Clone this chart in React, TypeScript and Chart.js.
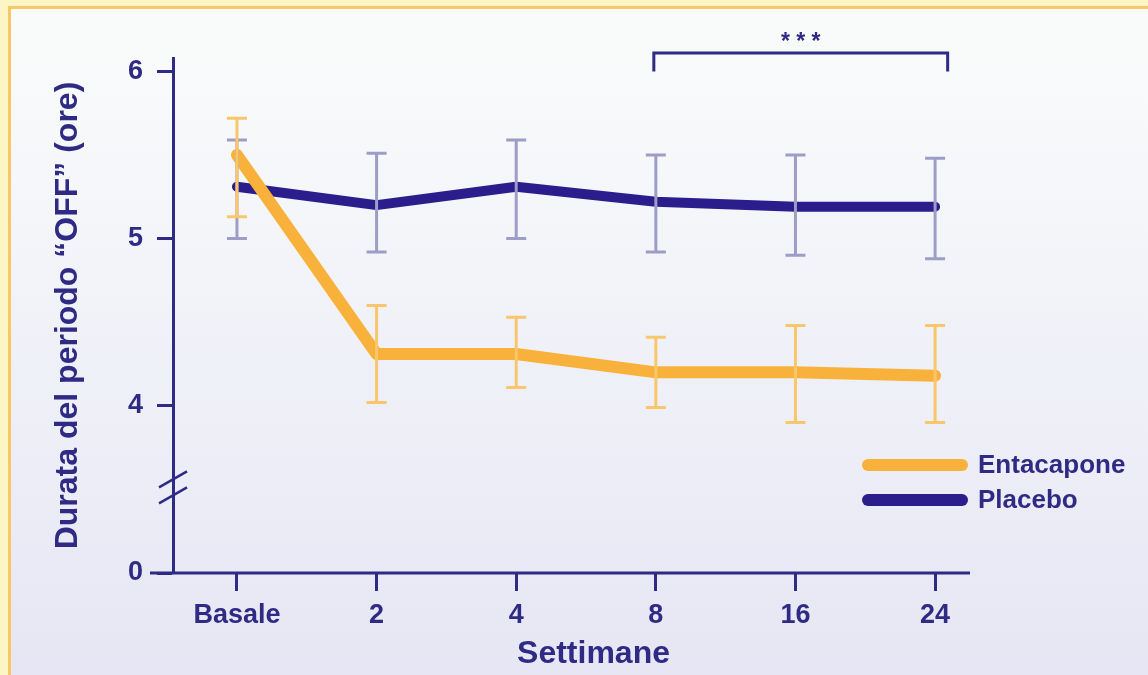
import React, { useEffect, useRef } from "react";
import { Chart, registerables } from "chart.js";

Chart.register(...registerables);

// Weeks of treatment along the horizontal axis
const weeks = ["Basale", "2", "4", "8", "16", "24"];

// Mean duration of the "OFF" period (hours) with the upper / lower error bar ends
const entacapone = [5.5, 4.31, 4.31, 4.2, 4.2, 4.18];
const entacaponeHigh = [5.72, 4.6, 4.53, 4.41, 4.48, 4.48];
const entacaponeLow = [5.13, 4.02, 4.11, 3.99, 3.9, 3.9];

const placebo = [5.31, 5.2, 5.31, 5.22, 5.19, 5.19];
const placeboHigh = [5.59, 5.51, 5.59, 5.5, 5.5, 5.48];
const placeboLow = [5.0, 4.92, 5.0, 4.92, 4.9, 4.88];

// The axis is broken below 4: the bottom tick stands for zero
const yTickValues = [3, 4, 5, 6];
const yTickLabels = ["0", "4", "5", "6"];

const NAVY = "#2f2a84";
const ORANGE = "#f8b23c";
const PLACEBO_BLUE = "#2b1e8c";
const ORANGE_ERR = "#f9c66c";
const PLACEBO_ERR = "#9d9dc8";
const FONT = "'Liberation Sans', Arial, sans-serif";

const errorBars = [
  { high: placeboHigh, low: placeboLow, color: PLACEBO_ERR },
  { high: entacaponeHigh, low: entacaponeLow, color: ORANGE_ERR },
];

const backgroundPlugin = {
  id: "pageBackground",
  beforeDraw(chart: any) {
    const { ctx, width, height } = chart;
    ctx.save();
    const g = ctx.createLinearGradient(0, 0, 0, height);
    g.addColorStop(0, "#fafcfb");
    g.addColorStop(0.35, "#f3f5f9");
    g.addColorStop(1, "#e6e6f4");
    ctx.fillStyle = g;
    ctx.fillRect(0, 0, width, height);
    // pale yellow frame with an orange inner rule on top and left
    ctx.fillStyle = "#fdf6c4";
    ctx.fillRect(0, 0, width, 7);
    ctx.fillRect(0, 0, 8, height);
    ctx.fillStyle = "#f9c765";
    ctx.fillRect(8, 6, width - 8, 3);
    ctx.fillRect(8, 6, 3, height - 6);
    ctx.restore();
  },
};

const decorationsPlugin = {
  id: "decorations",
  afterDatasetsDraw(chart: any) {
    const { ctx, chartArea, scales } = chart;
    const xs = scales.x;
    const ys = scales.y;
    ctx.save();

    // error bars
    ctx.lineCap = "butt";
    errorBars.forEach((eb) => {
      ctx.strokeStyle = eb.color;
      ctx.lineWidth = 3;
      eb.high.forEach((hi, i) => {
        const x = xs.getPixelForValue(i);
        const yHi = ys.getPixelForValue(hi);
        const yLo = ys.getPixelForValue(eb.low[i]);
        ctx.beginPath();
        ctx.moveTo(x, yHi);
        ctx.lineTo(x, yLo);
        ctx.moveTo(x - 10, yHi);
        ctx.lineTo(x + 10, yHi);
        ctx.moveTo(x - 10, yLo);
        ctx.lineTo(x + 10, yLo);
        ctx.stroke();
      });
    });

    // horizontal axis line, extended past the vertical axis
    ctx.strokeStyle = NAVY;
    ctx.lineWidth = 3;
    ctx.beginPath();
    ctx.moveTo(chartArea.left - 23, chartArea.bottom);
    ctx.lineTo(chartArea.right, chartArea.bottom);
    ctx.stroke();

    // axis break marks
    const yb = ys.getPixelForValue(3.5);
    ctx.lineWidth = 2.5;
    ctx.beginPath();
    ctx.moveTo(chartArea.left - 14, yb - 2);
    ctx.lineTo(chartArea.left + 14, yb - 18);
    ctx.moveTo(chartArea.left - 14, yb + 14);
    ctx.lineTo(chartArea.left + 14, yb - 2);
    ctx.stroke();

    // significance bracket from week 8 to week 24
    const bx1 = xs.getPixelForValue(3) - 2;
    const bx2 = xs.getPixelForValue(5.09);
    const byTop = ys.getPixelForValue(6.11);
    const byEnd = ys.getPixelForValue(6.0);
    ctx.lineWidth = 3;
    ctx.lineCap = "butt";
    ctx.beginPath();
    ctx.moveTo(bx1, byEnd);
    ctx.lineTo(bx1, byTop);
    ctx.lineTo(bx2, byTop);
    ctx.lineTo(bx2, byEnd);
    ctx.stroke();
    ctx.fillStyle = NAVY;
    ctx.font = `bold 23px ${FONT}`;
    ctx.textAlign = "center";
    ctx.textBaseline = "middle";
    ctx.fillText("* * *", (bx1 + bx2) / 2, byTop - 10);

    // legend
    ctx.lineCap = "round";
    ctx.lineWidth = 12;
    ctx.font = `bold 26px ${FONT}`;
    ctx.textAlign = "left";
    chart.data.datasets.forEach((ds: any, i: number) => {
      const y = 465 + i * 35;
      ctx.strokeStyle = ds.borderColor;
      ctx.beginPath();
      ctx.moveTo(chartArea.right - 102, y);
      ctx.lineTo(chartArea.right - 8, y);
      ctx.stroke();
      ctx.fillStyle = NAVY;
      ctx.fillText(ds.label, chartArea.right + 8, y + 1);
    });

    // horizontal axis title
    ctx.font = `bold 32px ${FONT}`;
    ctx.textAlign = "center";
    ctx.fillText("Settimane", (chartArea.left + chartArea.right) / 2 + 22, 654);

    ctx.restore();
  },
};

export default function App() {
  const canvasRef = useRef<HTMLCanvasElement | null>(null);

  useEffect(() => {
    if (!canvasRef.current) return;
    const chart = new Chart(canvasRef.current, {
      type: "line",
      data: {
        datasets: [
          {
            label: "Entacapone",
            data: entacapone.map((v, i) => ({ x: i, y: v })),
            borderColor: ORANGE,
            borderWidth: 12,
            borderCapStyle: "round",
            borderJoinStyle: "round",
            pointRadius: 0,
            tension: 0,
          },
          {
            label: "Placebo",
            data: placebo.map((v, i) => ({ x: i, y: v })),
            borderColor: PLACEBO_BLUE,
            borderWidth: 10,
            borderCapStyle: "round",
            borderJoinStyle: "round",
            pointRadius: 0,
            tension: 0,
          },
        ],
      },
      options: {
        animation: false,
        responsive: false,
        devicePixelRatio: 1,
        layout: { padding: { left: 0, top: 58, right: 178, bottom: 0 } },
        plugins: {
          legend: { display: false },
          tooltip: { enabled: false },
        },
        scales: {
          x: {
            type: "linear",
            min: -0.458,
            max: 5.25,
            afterBuildTicks: (scale: any) => {
              scale.ticks = weeks.map((_, i) => ({ value: i }));
            },
            afterFit: (scale: any) => {
              scale.height = 102;
            },
            border: { display: false },
            grid: {
              drawOnChartArea: false,
              drawTicks: true,
              tickLength: 18,
              tickWidth: 3,
              tickColor: NAVY,
            },
            ticks: {
              autoSkip: false,
              maxRotation: 0,
              padding: 8,
              color: NAVY,
              font: { family: FONT, size: 27, weight: "bold" },
              callback: (v: any) => weeks[Math.round(Number(v))] ?? "",
            },
          },
          y: {
            type: "linear",
            min: 3,
            max: 6.08,
            afterBuildTicks: (scale: any) => {
              scale.ticks = yTickValues.map((v) => ({ value: v }));
            },
            afterFit: (scale: any) => {
              scale.width = 173;
            },
            border: { display: true, color: NAVY, width: 3 },
            grid: {
              drawOnChartArea: false,
              drawTicks: true,
              tickLength: 16,
              tickWidth: 3,
              tickColor: NAVY,
            },
            ticks: {
              padding: 14,
              color: NAVY,
              font: { family: FONT, size: 27, weight: "bold" },
              callback: (v: any) => yTickLabels[yTickValues.indexOf(Number(v))] ?? "",
            },
            title: {
              display: true,
              text: "Durata del periodo “OFF” (ore)",
              color: NAVY,
              font: { family: FONT, size: 32, weight: "bold" },
              padding: { top: 49, bottom: 0 },
            },
          },
        },
      },
      plugins: [backgroundPlugin, decorationsPlugin],
    } as any);
    return () => chart.destroy();
  }, []);

  return (
    <div style={{ position: "absolute", left: 0, top: 0, width: 1148, height: 675 }}>
      <canvas ref={canvasRef} width={1148} height={675} style={{ width: 1148, height: 675, display: "block" }} />
    </div>
  );
}
